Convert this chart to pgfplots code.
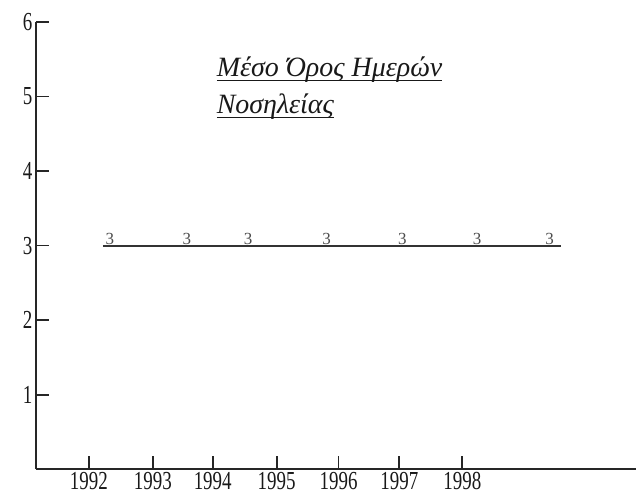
\documentclass[border=0pt]{standalone}
\usepackage{fontspec}
\setmainfont{Liberation Serif}
\usepackage{pgfplots}
\pgfplotsset{compat=1.18}
% thick underline as in the scanned title
\newcommand\thul[1]{\setbox0\hbox{#1}\rlap{\raisebox{-4.5pt}{\rule{\wd0}{1.6pt}}}\box0}
\newcommand\tall[1]{\scalebox{0.95}[1.3]{#1}}
\begin{document}
\begin{tikzpicture}
  \begin{axis}[
      scale only axis,
      width=601pt,
      height=448pt,
      xmin=-0.876, xmax=6.98,
      ymin=0, ymax=6,
      axis x line*=bottom,
      axis y line*=left,
      axis line style={line width=2pt,black!85},
      tick align=inside,
      major tick length=13pt,
      tick style={line width=1.8pt,black!85},
      ytick={1,2,3,4,5,6},
      yticklabel={\tall{\pgfmathprintnumber{\tick}}},
      xtick={-0.183,0.654,1.438,2.275,3.085,3.882,4.706},
      xticklabels={\tall{1992},\tall{1993},\tall{1994},\tall{1995},\tall{1996},\tall{1997},\tall{1998}},
      tick label style={font=\fontsize{20}{20}\selectfont,text=black!90},
      /pgf/number format/assume math mode=true,
      clip=false
    ]
    % the value line, shifted against the year ticks as in the scan
    \addplot[line width=2pt,black!80] coordinates {
      (0,3) (1,3) (2,3) (3,3) (4,3) (5,3) (6,3)
    };
    % value labels
    \addplot[draw=none,nodes near coords,point meta=explicit symbolic,
      every node near coord/.append style={font=\fontsize{17}{17}\selectfont,
        text=black!70,anchor=south,inner sep=1pt}]
      coordinates {
      (0.09,3)[3] (1.10,3)[3] (1.90,3)[3] (2.93,3)[3]
      (3.92,3)[3] (4.90,3)[3] (5.85,3)[3]
    };
    \node[anchor=north west,align=left,inner sep=0pt,
      font=\fontsize{28}{37}\selectfont\itshape,text=black!90]
      at (rel axis cs:0.301,0.922)
      {\thul{Μέσο Όρος Ημερών}\\\thul{Νοσηλείας}};
    \path (rel axis cs:-0.06,-0.058) rectangle (rel axis cs:1,1.049);
  \end{axis}
\end{tikzpicture}
\end{document}
